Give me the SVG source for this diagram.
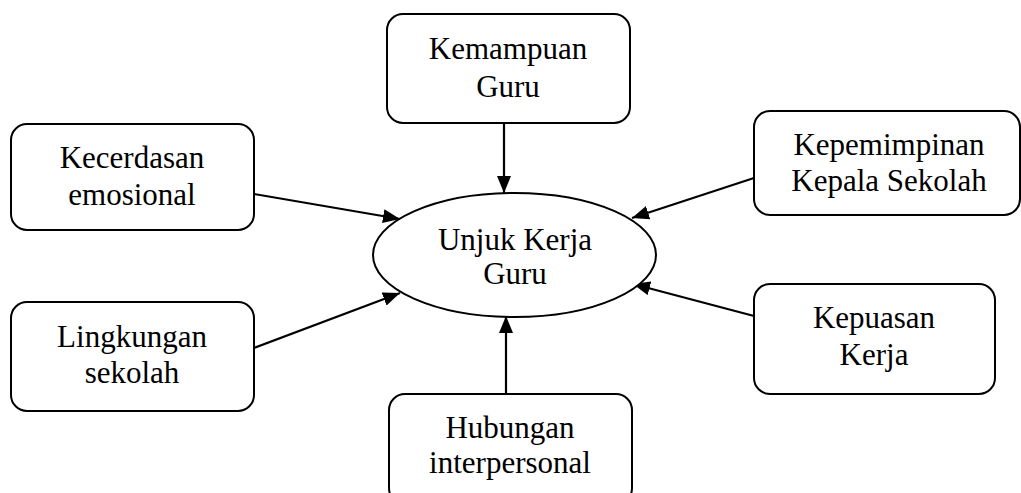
<svg xmlns="http://www.w3.org/2000/svg" width="1021" height="493" viewBox="0 0 1021 493">
<style>
.box{fill:#fff;stroke:#000;stroke-width:2}
.t{font-family:"Liberation Serif","Times New Roman",serif;font-size:31px;fill:#000;text-anchor:middle}
.c{stroke:#000;stroke-width:2.2;fill:none;marker-end:url(#ah)}
</style>
<defs>
<marker id="ah" markerUnits="userSpaceOnUse" markerWidth="18" markerHeight="14" refX="17" refY="7" orient="auto">
<path d="M0,0 L17,7 L0,14 z" fill="#000"/>
</marker>
</defs>
<rect width="1021" height="493" fill="#fff"/>
<g id="connectors">
<line class="c" x1="504" y1="124" x2="504" y2="193"/>
<line class="c" x1="254" y1="194" x2="400" y2="219"/>
<line class="c" x1="754" y1="178" x2="632" y2="218"/>
<line class="c" x1="254" y1="348" x2="400" y2="293"/>
<line class="c" x1="506" y1="394" x2="506" y2="316"/>
<line class="c" x1="754" y1="316" x2="633" y2="284"/>
</g>
<g id="unjuk-kerja">
<ellipse cx="514.5" cy="255" rx="141.5" ry="62" class="box"/>
<text class="t" x="515" y="250">Unjuk Kerja</text>
<text class="t" x="515" y="284">Guru</text>
</g>
<g id="kemampuan">
<rect x="387" y="14" width="243" height="109" rx="16" class="box"/>
<text class="t" x="508" y="59">Kemampuan</text>
<text class="t" x="508" y="97">Guru</text>
</g>
<g id="kecerdasan">
<rect x="11" y="124" width="243" height="106" rx="16" class="box"/>
<text class="t" x="132" y="168">Kecerdasan</text>
<text class="t" x="132" y="205">emosional</text>
</g>
<g id="kepemimpinan">
<rect x="754" y="111" width="266" height="104" rx="16" class="box"/>
<text class="t" x="889" y="155">Kepemimpinan</text>
<text class="t" x="889" y="191">Kepala Sekolah</text>
</g>
<g id="lingkungan">
<rect x="11" y="302" width="243" height="109" rx="16" class="box"/>
<text class="t" x="132" y="347">Lingkungan</text>
<text class="t" x="132" y="383">sekolah</text>
</g>
<g id="kepuasan">
<rect x="754" y="284" width="241" height="110" rx="16" class="box"/>
<text class="t" x="874" y="328">Kepuasan</text>
<text class="t" x="874" y="365">Kerja</text>
</g>
<g id="hubungan">
<rect x="389" y="394" width="243" height="110" rx="16" class="box"/>
<text class="t" x="510" y="438">Hubungan</text>
<text class="t" x="510" y="473">interpersonal</text>
</g>
</svg>
